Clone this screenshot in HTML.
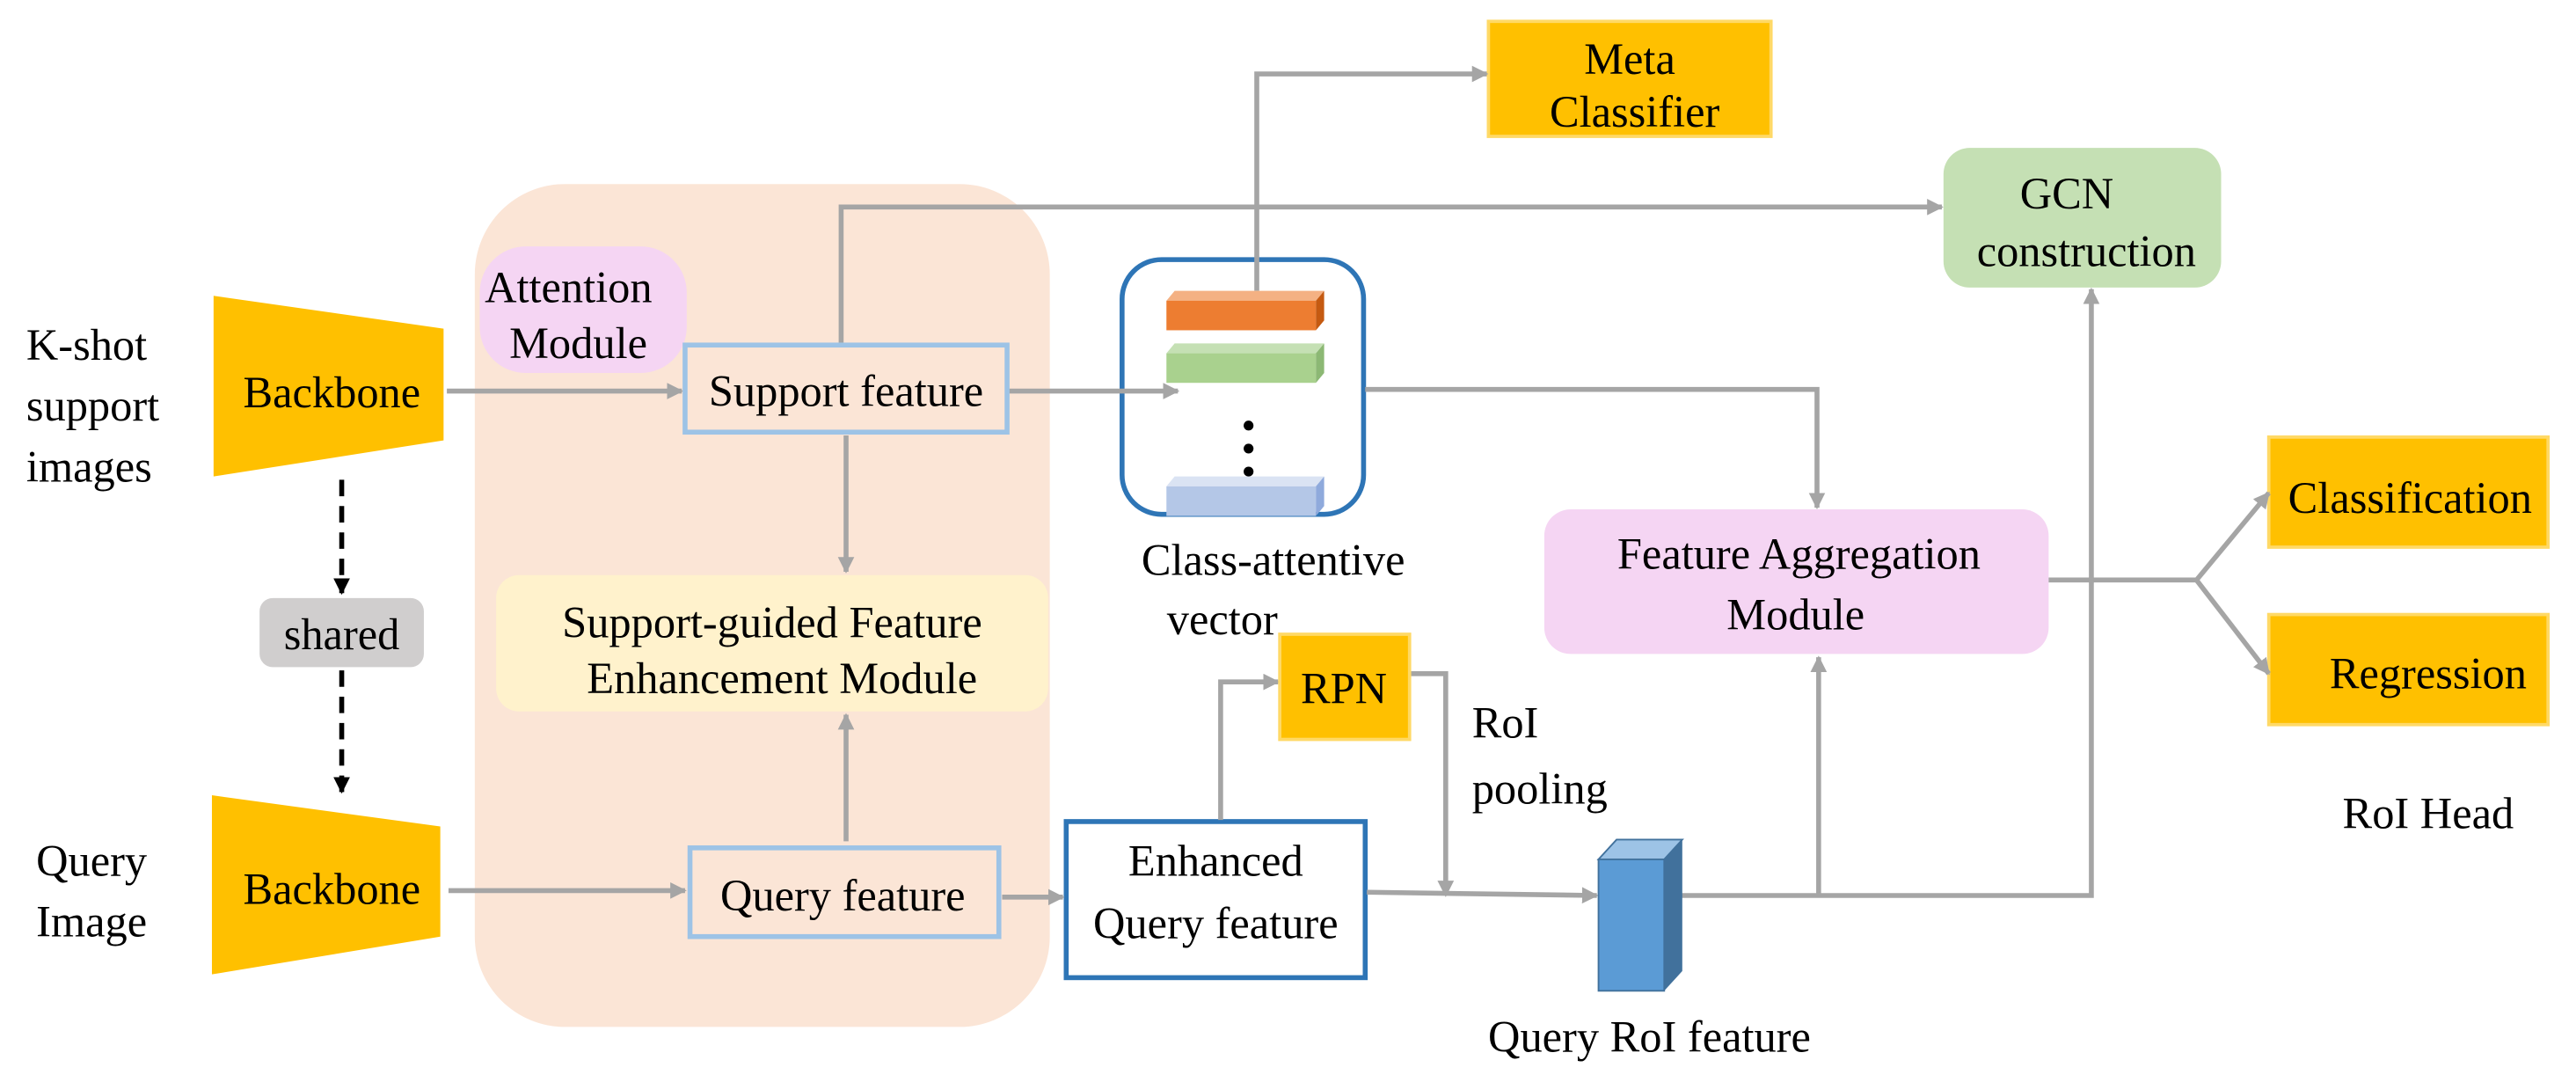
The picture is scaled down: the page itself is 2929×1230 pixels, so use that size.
<!DOCTYPE html>
<html><head><meta charset="utf-8"><style>html,body{margin:0;padding:0;background:#fff}svg{display:block}svg text{font-family:"Liberation Serif","Times New Roman","Noto Serif CJK SC","DejaVu Serif",serif;font-size:27px}</style></head>
<body>
<svg width="2929" height="1230" viewBox="0 0 1568 658.5" preserveAspectRatio="none" xmlns="http://www.w3.org/2000/svg" fill="#000">
<defs>
<marker id="a" markerWidth="10" markerHeight="10" refX="9" refY="5" orient="auto" markerUnits="userSpaceOnUse"><path d="M0,0 L10,5 L0,10 z" fill="#A5A5A5"/></marker>
<marker id="b" markerWidth="10" markerHeight="10" refX="9" refY="5" orient="auto" markerUnits="userSpaceOnUse"><path d="M0,0 L10,5 L0,10 z" fill="#000"/></marker>
</defs>
<rect x="289" y="112" width="350" height="513" rx="55" fill="#FBE5D6"/>
<rect x="292" y="150" width="126" height="77" rx="28" fill="#F5D5F3"/>
<rect x="302" y="350" width="336" height="83" rx="14" fill="#FFF2CC"/>
<rect x="906" y="13" width="172" height="70" fill="#FFC000" stroke="#FFD966" stroke-width="2"/>
<rect x="1183" y="90" width="169" height="85" rx="16" fill="#C5E0B4"/>
<rect x="940" y="310" width="307" height="88" rx="16" fill="#F5D5F3"/>
<rect x="1381" y="266" width="170" height="67" fill="#FFC000" stroke="#FFD966" stroke-width="2"/>
<rect x="1381" y="374" width="170" height="67" fill="#FFC000" stroke="#FFD966" stroke-width="2"/>
<polygon points="130,180 270,200 270,268 130,290" fill="#FFC000"/>
<polygon points="129,484 268,503 268,570 129,593" fill="#FFC000"/>
<rect x="158" y="364" width="100" height="42" rx="8" fill="#D0CECE"/>
<rect x="649" y="500" width="182" height="95" fill="#fff" stroke="#2E75B6" stroke-width="3"/>
<rect x="683" y="158" width="147" height="155" rx="24" fill="#fff" stroke="#2E75B6" stroke-width="3"/>
<g stroke="#A5A5A5" stroke-width="3" fill="none">
<line x1="272" y1="238" x2="415" y2="238" marker-end="url(#a)"/>
<line x1="273" y1="542" x2="417" y2="542" marker-end="url(#a)"/>
<line x1="515" y1="265" x2="515" y2="348" marker-end="url(#a)"/>
<line x1="515" y1="512" x2="515" y2="435" marker-end="url(#a)"/>
<line x1="610" y1="546" x2="647" y2="546" marker-end="url(#a)"/>
<line x1="614" y1="238" x2="717" y2="238" marker-end="url(#a)"/>
<polyline points="765,177 765,45 905,45" marker-end="url(#a)"/>
<polyline points="512,209 512,126 1182,126" marker-end="url(#a)"/>
<polyline points="831,237 1106,237 1106,309" marker-end="url(#a)"/>
<polyline points="1247,353 1337,353"/>
<polyline points="1337,353 1381,300" marker-end="url(#a)"/>
<polyline points="1337,353 1381,410" marker-end="url(#a)"/>
<polyline points="743,499 743,415 778,415" marker-end="url(#a)"/>
<polyline points="858,410 880,410 880,545" marker-end="url(#a)"/>
<polyline points="832,543 972,545" marker-end="url(#a)"/>
<polyline points="1010,545 1273,545 1273,176" marker-end="url(#a)"/>
<line x1="1107" y1="545" x2="1107" y2="400" marker-end="url(#a)"/>
</g>
<g stroke="#000" stroke-width="3" stroke-dasharray="10,6" fill="none">
<line x1="208" y1="292" x2="208" y2="361" marker-end="url(#b)"/>
<line x1="208" y1="408" x2="208" y2="482" marker-end="url(#b)"/>
</g>
<rect x="417" y="210" width="196" height="53" fill="none" stroke="#9DC3E6" stroke-width="3"/>
<rect x="420" y="516" width="188" height="54" fill="none" stroke="#9DC3E6" stroke-width="3"/>
<polygon points="710,183 715,177 806,177 801,183" fill="#F4B183"/><rect x="710" y="183" width="91" height="18" fill="#ED7D31"/><polygon points="801,183 806,177 806,195 801,201" fill="#C55A11"/>
<polygon points="710,215 715,209 806,209 801,215" fill="#C5E0B4"/><rect x="710" y="215" width="91" height="18" fill="#A9D18E"/><polygon points="801,215 806,209 806,227 801,233" fill="#8CB874"/>
<polygon points="710,296 715,290 806,290 801,296" fill="#DAE3F3"/><rect x="710" y="296" width="91" height="18" fill="#B4C7E7"/><polygon points="801,296 806,290 806,308 801,314" fill="#8FAADC"/>
<circle cx="760" cy="259" r="3"/><circle cx="760" cy="273" r="3"/><circle cx="760" cy="287" r="3"/>
<polygon points="973,523 984,511 1024,511 1013,523" fill="#9DC3E6" stroke="#41719C" stroke-width="1"/>
<rect x="973" y="523" width="40" height="80" fill="#5B9BD5" stroke="#41719C" stroke-width="1"/>
<polygon points="1013,523 1024,511 1024,591 1013,603" fill="#41719C"/>
<g text-anchor="middle">
<text x="992" y="45">Meta</text><text x="995" y="77">Classifier</text>
<text x="1258" y="127">GCN</text><text x="1270" y="162">construction</text>
<text x="346" y="184">Attention</text><text x="352" y="218">Module</text>
<text x="515" y="247">Support feature</text>
<text x="470" y="388">Support-guided Feature</text><text x="476" y="422">Enhancement Module</text>
<text x="513" y="554">Query feature</text>
<text x="740" y="533">Enhanced</text><text x="740" y="571">Query feature</text>
<text x="202" y="248">Backbone</text><text x="202" y="550">Backbone</text>
<text x="208" y="395">shared</text>
<text x="775" y="350">Class-attentive</text><text x="744" y="386">vector</text>
<text x="1095" y="346">Feature Aggregation</text><text x="1093" y="383">Module</text>
<text x="1467" y="312">Classification</text><text x="1478" y="419">Regression</text>
<text x="1478" y="504">RoI Head</text>
<text x="1004" y="640">Query RoI feature</text>
</g>
<text x="896" y="449">RoI</text><text x="896" y="489">pooling</text>
<text x="16" y="219">K-shot</text><text x="16" y="256">support</text><text x="16" y="293">images</text>
<text x="22" y="533">Query</text><text x="22" y="570">Image</text>
<rect x="779" y="386" width="79" height="64" fill="#FFC000" stroke="#FFD966" stroke-width="2"/>
<text x="818" y="428" text-anchor="middle">RPN</text>
</svg>
</body></html>
